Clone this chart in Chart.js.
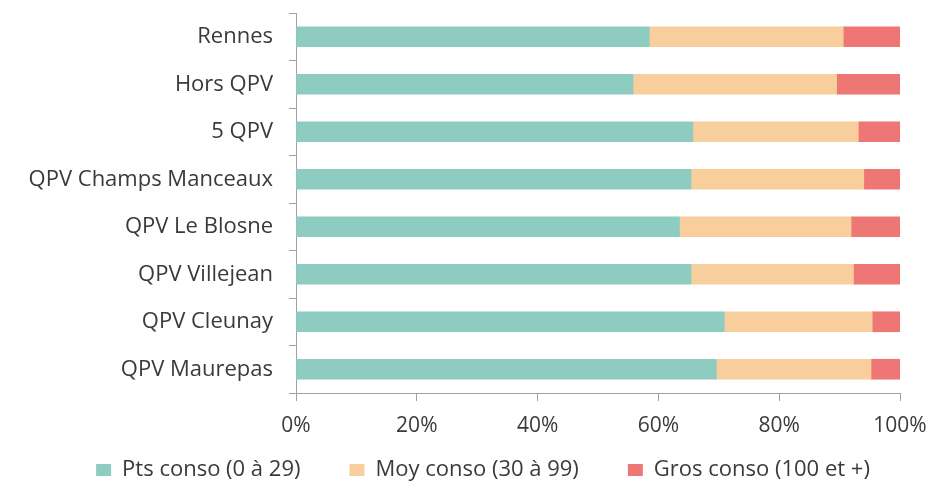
<!DOCTYPE html>
<html>
<head>
<meta charset="utf-8">
<script src="https://cdn.jsdelivr.net/npm/chart.js@4.4.1/dist/chart.umd.min.js"></script>
<style>
html,body{margin:0;padding:0;background:#fff;}
#wrap{width:932px;height:489px;position:relative;}
</style>
</head>
<body>
<div id="wrap"><canvas id="c" width="932" height="489"></canvas></div>
<script>
const categories = ["Rennes","Hors QPV","5 QPV","QPV Champs Manceaux","QPV Le Blosne","QPV Villejean","QPV Cleunay","QPV Maurepas"];
const seriesNames = ["Pts conso (0 à 29)","Moy conso (30 à 99)","Gros conso (100 et +)"];
const petits = [58.5, 55.8, 65.7, 65.4, 63.5, 65.4, 70.9, 69.6];
const moyens = [32.1, 33.7, 27.4, 28.6, 28.4, 26.9, 24.5, 25.6];
const gros   = [9.4, 10.5, 6.9, 6.0, 8.1, 7.7, 4.6, 4.8];
const tickValues = [0,20,40,60,80,100];

const colors = ["#8ECCC2","#F8CE9D","#EE7674"];
const axisColor = "#a0a0a0";
const textColor = "#3a3a3a";

// place the legend row like the reference (below the x tick labels, slightly right of centre)
const legendPlacer = {
  id:'legendPlacer',
  afterLayout(chart){
    const lg = chart.legend;
    if(!lg) return;
    lg.top = 410; lg.bottom = chart.height; lg.height = lg.bottom - lg.top;
    lg.left += 17; lg.right += 17;
    if (lg.adjustHitBoxes) lg.adjustHitBoxes();
  }
};

new Chart(document.getElementById('c'), {
  type:'bar',
  data:{
    labels:categories,
    datasets:[
      {label:seriesNames[0], data:petits, backgroundColor:colors[0]},
      {label:seriesNames[1], data:moyens, backgroundColor:colors[1]},
      {label:seriesNames[2], data:gros, backgroundColor:colors[2]}
    ]
  },
  plugins:[legendPlacer],
  options:{
    indexAxis:'y',
    responsive:false,
    animation:false,
    devicePixelRatio:1,
    datasets:{bar:{barThickness:20, borderWidth:0}},
    layout:{padding:{left:0,right:0,top:13,bottom:0}},
    plugins:{
      tooltip:{enabled:false},
      legend:{
        position:'bottom',
        maxHeight:40,
        labels:{
          color:textColor,
          font:{family:"'Open Sans',sans-serif", size:22},
          boxWidth:15, boxHeight:12, padding:49
        }
      }
    },
    scales:{
      x:{
        stacked:true, min:0, max:100,
        afterBuildTicks:(s)=>{ s.ticks = tickValues.map(v=>({value:v})); },
        grid:{drawOnChartArea:false, drawTicks:true, tickLength:8, color:axisColor},
        border:{color:axisColor, width:1},
        ticks:{color:textColor, font:{family:"'Open Sans',sans-serif", size:21}, padding:12, maxRotation:0, callback:(v)=>v+'%'},
        afterFit:(s)=>{ s.height = 56; s.paddingLeft = 0; s.paddingRight = 32; }
      },
      y:{
        stacked:true,
        grid:{drawOnChartArea:false, drawTicks:true, tickLength:7, offset:true, color:axisColor},
        border:{color:axisColor, width:1},
        ticks:{color:textColor, font:{family:"'Open Sans',sans-serif", size:22}, padding:16},
        afterFit:(s)=>{ s.width = 296; s.paddingTop = 0; s.paddingBottom = 0; }
      }
    }
  }
});
</script>
</body>
</html>
